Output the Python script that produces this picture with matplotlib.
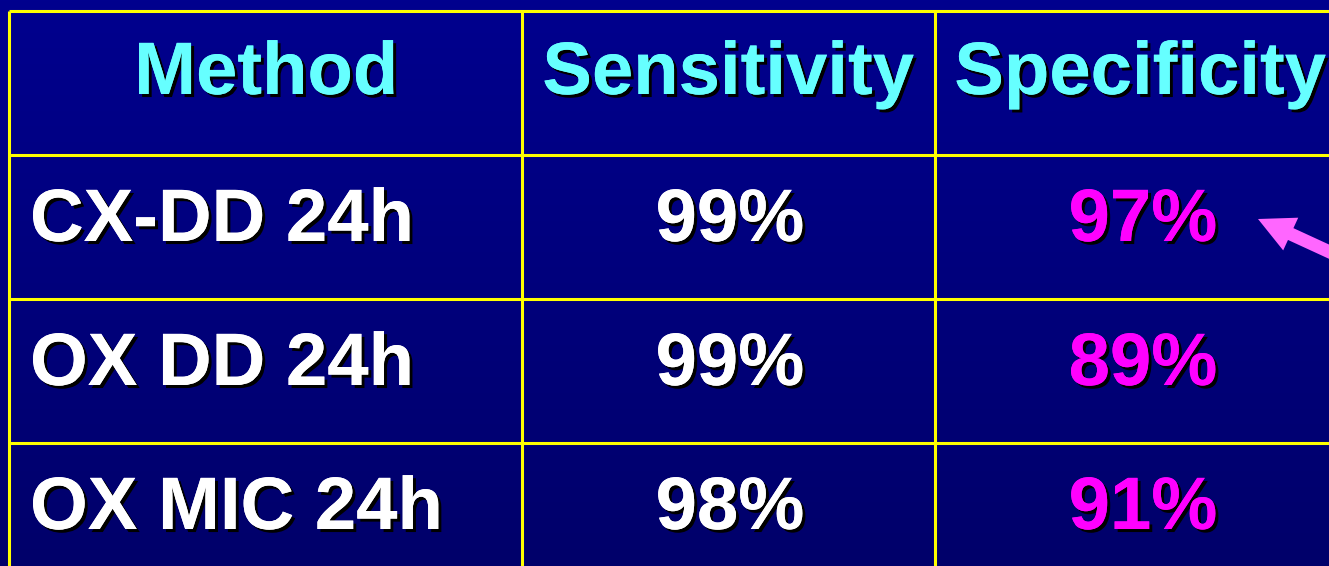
import numpy as np
import matplotlib.pyplot as plt
import matplotlib.patheffects as pe
from matplotlib.patches import FancyArrow

# Данные таблицы
headers = ['Method', 'Sensitivity', 'Specificity']
methods = ['CX-DD 24h', 'OX DD 24h', 'OX MIC 24h']
sensitivity = [99, 99, 98]
specificity = [97, 89, 91]

W, H = 1329, 566
fig = plt.figure(figsize=(W / 100, H / 100), dpi=100)
ax = fig.add_axes([0, 0, 1, 1])
ax.set_xlim(0, W)
ax.set_ylim(H, 0)
ax.axis('off')

# Фон: вертикальный градиент синего
grad = np.linspace(0, 1, 256).reshape(-1, 1)
top = np.array([0, 0, 0x8E]) / 255
bot = np.array([0, 0, 0x6A]) / 255
img = top + (bot - top) * grad[..., None]
ax.imshow(img, extent=(0, W, H, 0), aspect='auto', zorder=0)

# Сетка таблицы
rows_y = [11, 155, 299, 443]
cols_x = [9, 522, 935]
for y in rows_y:
    ax.plot([cols_x[0], W + 10], [y, y], color='#FFFF00', lw=2.2, zorder=1,
            solid_capstyle='butt')
for x in cols_x:
    ax.plot([x, x], [rows_y[0], H + 10], color='#FFFF00', lw=2.2, zorder=1,
            solid_capstyle='butt')

shadow = [pe.withSimplePatchShadow(offset=(2.2, -2.2), shadow_rgbFace='black',
                                   alpha=1.0), pe.Normal()]
font = dict(family=['Liberation Sans', 'DejaVu Sans'], fontweight='bold',
            fontsize=53.5, va='baseline', path_effects=shadow, zorder=3)

# Заголовки
centers = [266, 728, 1140]
for cx, h in zip(centers, headers):
    ax.text(cx, rows_y[0] + 83, h, color='#66FFFF', ha='center', **font)

# Строки
for i, m in enumerate(methods):
    base = rows_y[i + 1] + 86
    ax.text(30, base, m, color='white', ha='left', **font)
    ax.text(centers[1] + 2, base, f'{sensitivity[i]}%', color='white',
            ha='center', **font)
    ax.text(centers[2] + 3, base, f'{specificity[i]}%', color='#FF00FF',
            ha='center', **font)

# Стрелка к лучшему значению
arrow = FancyArrow(1358, 265, -100, -46, width=13, head_width=36,
                   head_length=36, length_includes_head=True,
                   color='#FF66FF', lw=0, zorder=4)
ax.add_patch(arrow)

plt.savefig('out.png', dpi=100)
